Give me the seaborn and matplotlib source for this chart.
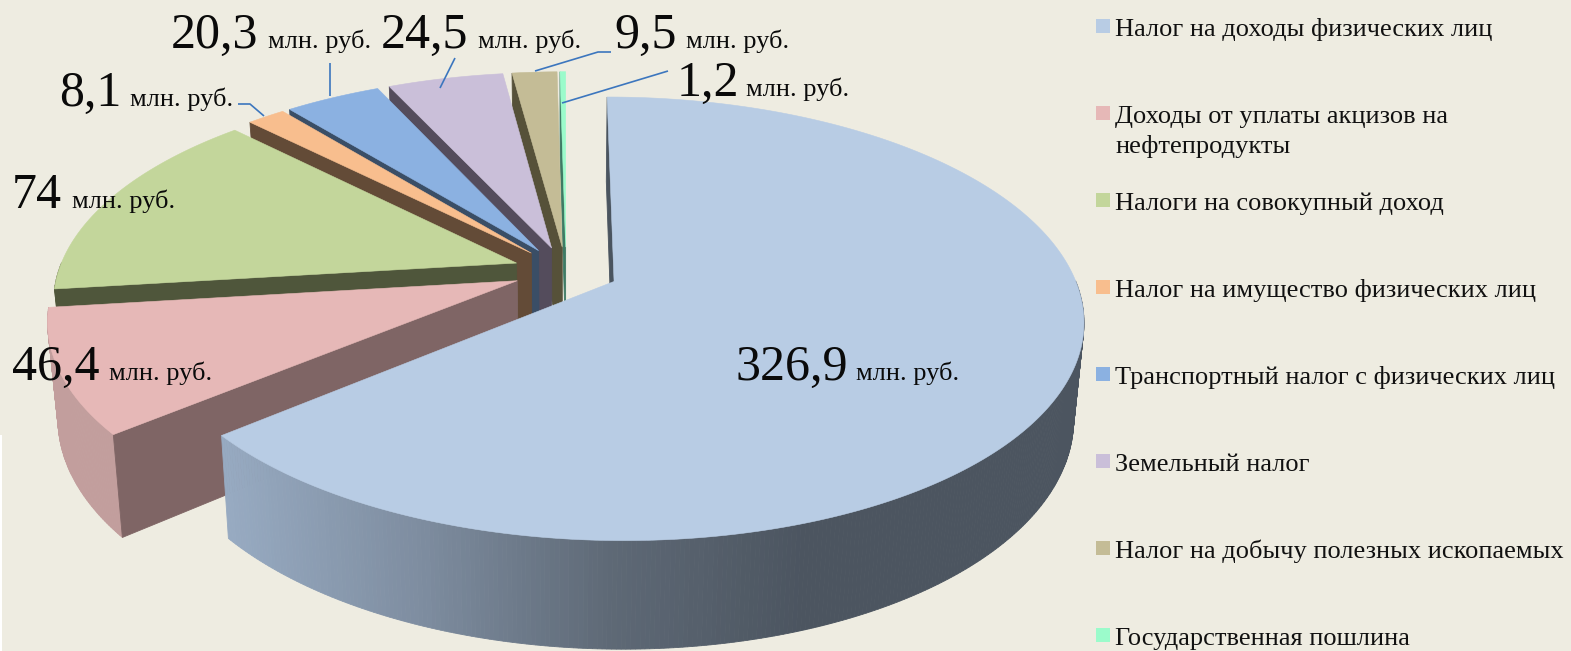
import numpy as np
import matplotlib
matplotlib.use("Agg")
import matplotlib.pyplot as plt
import seaborn as sns

# data
categories = [
    ["Налог на доходы физических лиц"],
    ["Доходы от уплаты акцизов на", "нефтепродукты"],
    ["Налоги на совокупный доход"],
    ["Налог на имущество физических лиц"],
    ["Транспортный налог с физических лиц"],
    ["Земельный налог"],
    ["Налог на добычу полезных ископаемых"],
    ["Государственная пошлина"],
]
values = [326.9, 46.4, 74, 8.1, 20.3, 24.5, 9.5, 1.2]
value_labels = ["326,9", "46,4", "74", "8,1", "20,3", "24,5", "9,5", "1,2"]
unit = "млн. руб."

# colours
top_colors = ["#B8CCE4", "#E6B8B7", "#C3D69B", "#F8BE8E", "#8BB1E1", "#CABFD9", "#C4BC96", "#9BFBCB"]
wall_colors = ["#4A545F", "#7F6565", "#4F563B", "#634B37", "#3A4E66", "#544C5C", "#565139", "#3E7A64"]
rim_colors = ["#4C5560", "#C29E9D", "#6E7552", "#8F6F50", "#4F6B8C", "#6C6478", "#6F6A50", "#4F9A7A"]
bg = "#EEECE1"
line_color = "#3C76BE"

# label positions in pixels: (number x, unit x, baseline y)
label_pos = [(736, 856, 380), (12, 109, 380), (12, 72, 208), (59, 130, 106),
             (171, 268, 48), (381, 478, 48), (614, 686, 48), (677, 746, 96)]
leaders = [None, None, None,
           [(238, 104), (250, 104), (264, 116)],
           [(330, 63), (330, 96)],
           [(455, 58), (440, 88)],
           [(611, 52), (598, 52), (535, 71)],
           [(668, 71), (562, 103)]]
legend_y = [26, 113, 200, 287, 374, 461, 548, 635]

# view of the tilted pie
cx, cy = 566, 271
rx, ry = 458, 212
tilt = 0.167
depth = 94
shrink = 0.02
explode = 0.115

sns.set_theme(style="white")
plt.rcParams["font.family"] = ["Liberation Serif", "DejaVu Serif"]


def project(u, v, z=0.0):
    w = 1 + tilt * v
    s = 1 - shrink * z
    return cx + rx * u * s / w, cy - ry * v * s / w + depth * z / w


def wedge(a0, a1, ox, oy):
    # angles run clockwise from the top
    t = np.radians(np.linspace(a0, a1, max(int(a1 - a0) * 2, 4)))
    return ox + np.sin(t), oy + np.cos(t)


fig = plt.figure(figsize=(15.71, 6.51), dpi=100, facecolor=bg)
ax = fig.add_axes([0, 0, 1, 1])
ax.set_xlim(0, 1571)
ax.set_ylim(651, 0)
ax.axis("off")

# white strip left on the original at the lower left edge
ax.fill([0, 2.5, 2.5, 0], [435, 435, 651, 651], color="white", lw=0)

angles = np.array(values) / sum(values) * 360
starts = np.concatenate([[0], np.cumsum(angles)[:-1]])
main_shade = sns.blend_palette(["#97AAC1", "#7E8DA0", "#5E6976", "#4C5560"], 200)

# back slices first, the big one last
for i in [7, 6, 5, 4, 3, 2, 1, 0]:
    a0, a1 = starts[i], starts[i] + angles[i]
    mid = np.radians((a0 + a1) / 2)
    ox, oy = explode * np.sin(mid), explode * np.cos(mid)
    us, vs = wedge(a0, a1, ox, oy)

    # outer wall, cut into strips, only the part turned to the viewer
    xt, yt = project(us, vs)
    xb, yb = project(us, vs, 1)
    for j in range(len(us) - 1):
        if vs[j] - oy > 0 and vs[j + 1] - oy > 0:
            continue
        if i == 0:
            k = int(np.clip((xb[j] - 232) / (800 - 232), 0, 1) * 199)
            col = main_shade[k]
        else:
            col = rim_colors[i]
        ax.fill([xt[j], xt[j + 1], xb[j + 1], xb[j]], [yt[j], yt[j + 1], yb[j + 1], yb[j]],
                color=col, lw=0.6)

    # wall along the starting edge, down from the centre
    ax0, ay0 = project(ox, oy)
    ax1, ay1 = project(ox, oy, 1)
    ax.fill([xt[0], ax0, ax1, xb[0]], [yt[0], ay0, ay1, yb[0]], color=wall_colors[i], lw=0.6)

    # top face
    ax.fill(np.r_[ax0, xt], np.r_[ay0, yt], color=top_colors[i], lw=0.4)

# value labels and leader lines
for i in range(len(values)):
    nx, ux, base = label_pos[i]
    ax.text(nx, base, value_labels[i], fontsize=36, color="#0A0A0A", va="baseline", ha="left")
    ax.text(ux, base, unit, fontsize=19, color="#0A0A0A", va="baseline", ha="left")
    if leaders[i] is not None:
        ax.plot(*zip(*leaders[i]), color=line_color, lw=1.2, solid_capstyle="butt")

# legend
for i, lines in enumerate(categories):
    y = legend_y[i]
    ax.fill([1096, 1110, 1110, 1096], [y - 7, y - 7, y + 7, y + 7], color=top_colors[i], lw=0)
    for n, name in enumerate(lines):
        ax.text(1115, y + 10 + n * 30, name, fontsize=19, color="#111111", va="baseline", ha="left")

fig.savefig("out.png", dpi=100, facecolor=bg)
